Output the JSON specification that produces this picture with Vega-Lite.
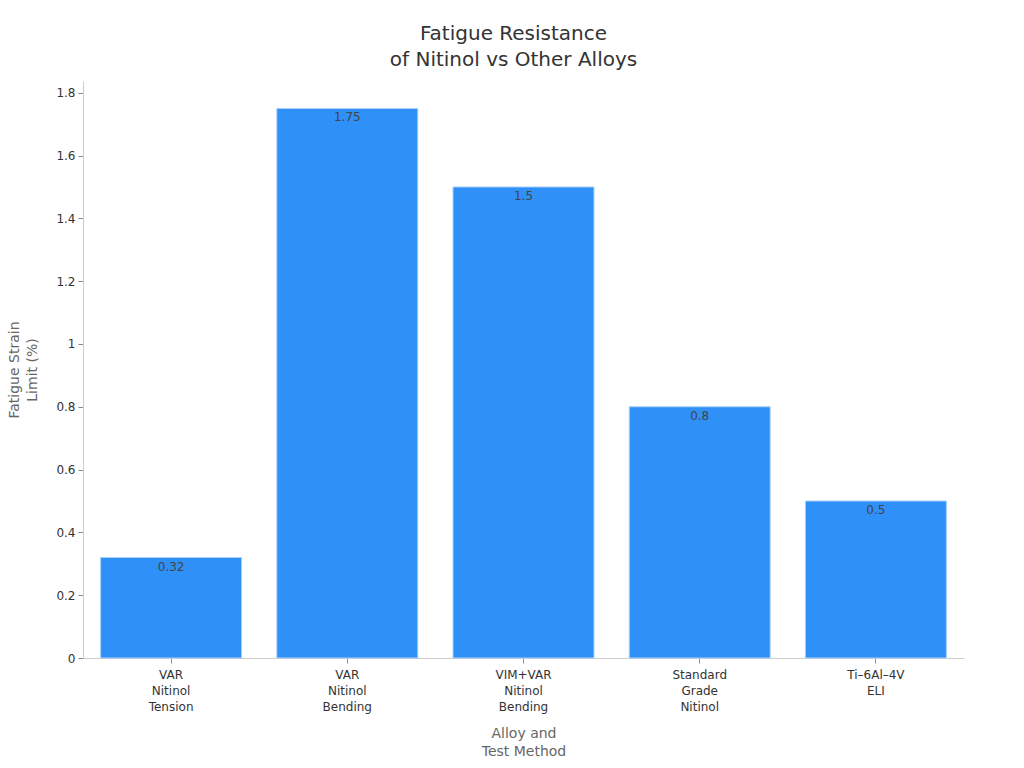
{
  "$schema": "https://vega.github.io/schema/vega-lite/v6.json",
  "width": 881,
  "height": 577,
  "autosize": {"type": "none"},
  "padding": {"left": 83, "top": 81, "right": 60, "bottom": 110},
  "background": "white",
  "title": {
    "text": ["Fatigue Resistance", "of Nitinol vs Other Alloys"],
    "anchor": "middle",
    "frame": "group",
    "dx": -10,
    "offset": 11,
    "fontSize": 20,
    "fontWeight": "normal",
    "color": "#333333",
    "font": "DejaVu Sans",
    "lineHeight": 26
  },
  "data": {
    "values": [
      {"alloy": "VAR Nitinol Tension", "value": 0.32},
      {"alloy": "VAR Nitinol Bending", "value": 1.75},
      {"alloy": "VIM+VAR Nitinol Bending", "value": 1.5},
      {"alloy": "Standard Grade Nitinol", "value": 0.8},
      {"alloy": "Ti–6Al–4V ELI", "value": 0.5}
    ]
  },
  "encoding": {
    "x": {
      "field": "alloy",
      "type": "nominal",
      "sort": null,
      "scale": {"paddingInner": 0.2, "paddingOuter": 0.1},
      "axis": {
        "title": ["Alloy and", "Test Method"],
        "labelExpr": "split(datum.label, ' ')",
        "labelAngle": 0,
        "labelFont": "DejaVu Sans",
        "labelFontSize": 12,
        "labelColor": "#333333",
        "labelLineHeight": 16,
        "labelPadding": 6,
        "titleFont": "DejaVu Sans",
        "titleFontSize": 14,
        "titleFontWeight": "normal",
        "titleColor": "#666666",
        "titleLineHeight": 18,
        "titlePadding": 14,
        "domainColor": "#cccccc",
        "tickColor": "#888888",
        "tickSize": 5
      }
    },
    "y": {
      "field": "value",
      "type": "quantitative",
      "scale": {"domain": [0, 1.8375], "nice": false},
      "axis": {
        "title": ["Fatigue Strain", "Limit (%)"],
        "values": [0, 0.2, 0.4, 0.6, 0.8, 1, 1.2, 1.4, 1.6, 1.8],
        "format": ".1~f",
        "grid": false,
        "labelFont": "DejaVu Sans",
        "labelFontSize": 12,
        "labelColor": "#333333",
        "labelPadding": 3,
        "titleFont": "DejaVu Sans",
        "titleFontSize": 14,
        "titleFontWeight": "normal",
        "titleColor": "#666666",
        "titleLineHeight": 18,
        "titlePadding": 16,
        "domainColor": "#cccccc",
        "tickColor": "#888888",
        "tickSize": 5
      }
    }
  },
  "layer": [
    {
      "mark": {"type": "bar", "color": "#2f90f7", "stroke": "#a9d0fb", "strokeWidth": 1}
    },
    {
      "mark": {"type": "text", "baseline": "top", "dy": 4, "fontSize": 12, "font": "DejaVu Sans", "color": "#444444"},
      "encoding": {"text": {"field": "value", "type": "quantitative"}}
    }
  ],
  "config": {"view": {"stroke": null}}
}
